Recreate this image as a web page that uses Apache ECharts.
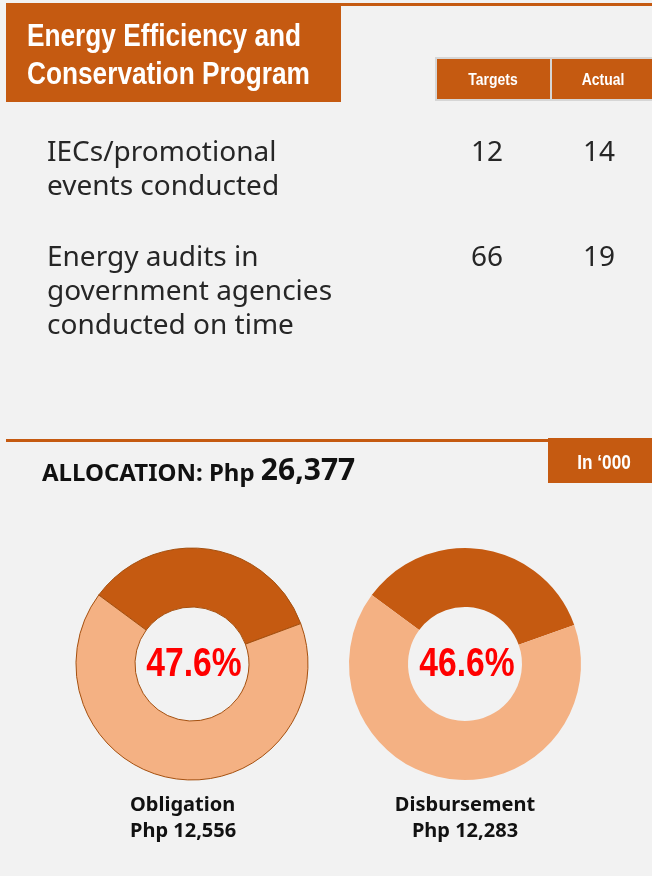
<!DOCTYPE html>
<html>
<head>
<meta charset="utf-8">
<script src="https://cdn.jsdelivr.net/npm/echarts@6/dist/echarts.min.js"></script>
<style>
  html, body { margin: 0; padding: 0; background: #F2F2F2; }
  #chart { width: 652px; height: 876px; }
</style>
</head>
<body>
<div id="chart"></div>
<script>
// table data
const metrics = ['IECs/promotional\nevents conducted', 'Energy audits in\ngovernment agencies\nconducted on time'];
const targets = [12, 66];
const actuals = [14, 19];
const columns = ['Targets', 'Actual'];

// allocation (Php '000)
const allocation = '26,377';
const donutNames = ['Obligation', 'Disbursement'];
const donutAmounts = ['12,556', '12,283'];
const donutPercents = ['47.6%', '46.6%'];
// slice shares as drawn (dark part, light part)
const darkShare = [34.2, 34.4];
const lightShare = [65.8, 65.6];

const ORANGE = '#C55A11';
const PEACH = '#F4B183';
const ARIAL = '"Liberation Sans", Arial, sans-serif';
const BODY = '"Noto Sans", "DejaVu Sans", sans-serif';
const NARROW = 0.82; // squeeze Arial-like text to look like Arial Narrow

const chart = echarts.init(document.getElementById('chart'));

const rowTop = [136, 241];
const colX = [487, 599];
const donutX = [192, 465];
const donutY = 664;

// condensed text helper
function narrowText(x, y, text, font, extra) {
  return {
    type: 'text', x: x, y: y, scaleX: NARROW, silent: true,
    style: Object.assign({ text: text, fill: '#fff', font: font }, extra || {})
  };
}

const graphics = [
  // top rule
  { type: 'rect', shape: { x: 6, y: 3, width: 646, height: 3 }, style: { fill: ORANGE } },
  // title block
  { type: 'rect', shape: { x: 6, y: 5, width: 335, height: 97 }, style: { fill: ORANGE } },
  narrowText(27, 18, 'Energy Efficiency and\nConservation Program', 'bold 32px ' + ARIAL, { lineHeight: 38, verticalAlign: 'top' }),
  // header cells
  { type: 'rect', shape: { x: 435, y: 57, width: 217, height: 44 }, style: { fill: '#D6D6D6' } },
  { type: 'rect', shape: { x: 437, y: 59, width: 113, height: 40 }, style: { fill: ORANGE } },
  { type: 'rect', shape: { x: 552, y: 59, width: 100, height: 40 }, style: { fill: ORANGE } },
  // section rule + unit box
  { type: 'rect', shape: { x: 6, y: 439, width: 546, height: 3 }, style: { fill: ORANGE } },
  { type: 'rect', shape: { x: 548, y: 438, width: 104, height: 45 }, style: { fill: ORANGE } },
  narrowText(604, 463, 'In \u2018000', 'bold 21px ' + ARIAL, { align: 'center', verticalAlign: 'middle' }),
  {
    type: 'text', x: 42, y: 471,
    style: {
      text: '{a|ALLOCATION: Php }{b|' + allocation + '}',
      verticalAlign: 'middle',
      rich: {
        a: { font: 'bold 24px ' + BODY, fill: '#111', verticalAlign: 'bottom' },
        b: { font: 'bold 30px ' + BODY, fill: '#111', verticalAlign: 'bottom' }
      }
    }
  }
];

columns.forEach((c, i) => {
  graphics.push(narrowText(i === 0 ? 493 : 603, 80, c, 'bold 17px ' + ARIAL, { align: 'center', verticalAlign: 'middle' }));
});

metrics.forEach((m, i) => {
  graphics.push({
    type: 'text', x: 47, y: rowTop[i],
    style: { text: m, fill: '#262626', font: '28px ' + BODY, lineHeight: 34, verticalAlign: 'top' }
  });
  [targets[i], actuals[i]].forEach((v, j) => {
    graphics.push({
      type: 'text', x: colX[j], y: rowTop[i],
      style: { text: String(v), fill: '#262626', font: '28px ' + BODY, lineHeight: 34, align: 'center', verticalAlign: 'top' }
    });
  });
});

donutNames.forEach((n, i) => {
  // percentage in the hole
  graphics.push(narrowText(donutX[i] + 2, donutY + 1, donutPercents[i], 'bold 41px ' + ARIAL,
    { fill: '#FF0000', align: 'center', verticalAlign: 'middle' }));
  graphics.push({
    type: 'text', x: i === 0 ? 130 : donutX[i], y: 818,
    style: {
      text: n + '\nPhp ' + donutAmounts[i], fill: '#111', font: 'bold 20px ' + BODY,
      lineHeight: 26, align: i === 0 ? 'left' : 'center', verticalAlign: 'middle'
    }
  });
});

const series = donutNames.map((n, i) => ({
  type: 'pie',
  name: n,
  center: [donutX[i], donutY],
  radius: [57, 116],
  startAngle: 143.5,
  clockwise: true,
  silent: true,
  label: { show: false },
  labelLine: { show: false },
  itemStyle: i === 0 ? { borderColor: '#A5500F', borderWidth: 1 } : { borderWidth: 0 },
  data: [
    { name: 'Spent', value: darkShare[i], itemStyle: { color: ORANGE } },
    { name: 'Remaining', value: lightShare[i], itemStyle: { color: PEACH } }
  ]
}));

chart.setOption({
  backgroundColor: '#F2F2F2',
  animation: false,
  graphic: graphics,
  series: series
});
</script>
</body>
</html>
